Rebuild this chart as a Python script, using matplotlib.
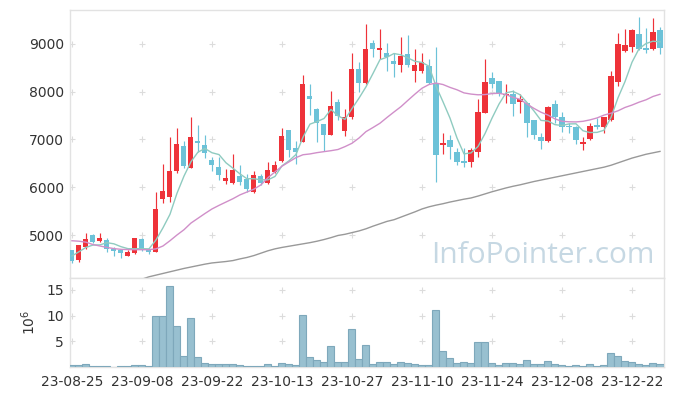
import matplotlib
matplotlib.use("Agg")
import matplotlib.pyplot as plt
import numpy as np

# ---------------- data ----------------
tick_labels = ['23-08-25', '23-09-08', '23-09-22', '23-10-13', '23-10-27',
               '23-11-10', '23-11-24', '23-12-08', '23-12-22']
tick_pos = [0, 10, 20, 30, 40, 50, 60, 70, 80]

opens = [4686, 4477, 4756, 5000, 4870, 4895, 4707, 4680, 4567, 4630,
         4910, 4714, 4645, 5748, 5803, 6347, 6864, 6410, 6975, 6885,
         6577, 6424, 6138, 6083, 6236, 6173, 5895, 6243, 6083, 6327,
         6557, 7199, 6829, 6954, 7911, 7632, 7325, 7102, 7779, 7185,
         7478, 8470, 8177, 9028, 8874, 8805, 8644, 8560, 8791, 8435,
         8435, 8539, 8177, 6885, 6983, 6738, 6550, 6536, 6745, 7562,
         8295, 8226, 7925, 7953, 7786, 7758, 7408, 7046, 6976, 7744,
         7478, 7276, 7270, 6900, 7004, 7290, 7270, 7408, 8211, 8853,
         8930, 9210, 8895, 8889, 9293]
highs = [4690, 4791, 5036, 5020, 5036, 4930, 4755, 4690, 4693, 4935,
         4937, 4720, 5907, 6481, 7046, 7235, 6969, 7465, 7298, 7089,
         6640, 6633, 6376, 6690, 6460, 6278, 6347, 6285, 6536, 6550,
         7235, 7199, 6969, 8351, 8162, 7667, 7330, 8016, 7842, 7632,
         8818, 8630, 9419, 9084, 9308, 9014, 8805, 9140, 9188, 8889,
         8805, 8680, 8931, 7130, 7094, 6822, 6815, 6815, 7842, 8680,
         8407, 8226, 8162, 8037, 7953, 7760, 7408, 7143, 7702, 7827,
         7582, 7340, 7280, 7046, 7340, 7444, 7480, 8442, 9224, 9308,
         9308, 9572, 9329, 9538, 9350]
lows = [4414, 4440, 4707, 4840, 4860, 4650, 4560, 4520, 4560, 4600,
        4670, 4600, 4640, 5664, 5700, 6305, 6397, 6397, 6745, 6607,
        6347, 6152, 6062, 6070, 6048, 5895, 5886, 6048, 6075, 6300,
        6536, 6640, 6487, 6954, 7513, 6954, 6766, 7095, 7408, 7080,
        7423, 8002, 8170, 8734, 8680, 8435, 8316, 8420, 8525, 8211,
        8386, 8170, 6104, 6690, 6592, 6460, 6418, 6418, 6640, 7549,
        8085, 7911, 7771, 7492, 7562, 7059, 7004, 6795, 6955, 7339,
        7164, 7130, 6906, 6780, 6990, 7214, 7130, 7394, 8121, 8840,
        8840, 8874, 8805, 8880, 8790]
closes = [4462, 4791, 4910, 4860, 4940, 4700, 4665, 4617, 4650, 4930,
          4707, 4645, 5545, 5922, 6340, 6906, 6445, 7053, 6933, 6711,
          6466, 6257, 6194, 6362, 6117, 5958, 6257, 6083, 6362, 6466,
          7074, 6780, 6745, 8162, 7842, 7339, 7102, 7702, 7492, 7465,
          8470, 8190, 8889, 8889, 8910, 8734, 8575, 8749, 8560, 8560,
          8617, 8177, 6676, 6920, 6850, 6536, 6508, 6780, 7583, 8198,
          8156, 7981, 7960, 7737, 7849, 7339, 7094, 6976, 7674, 7465,
          7256, 7255, 6990, 6942, 7283, 7270, 7478, 8330, 9000, 8979,
          9293, 8889, 8880, 9245, 8910]
volumes_m = [0.31, 0.3, 0.5, 0.15, 0.15, 0.15, 0.03, 0.15, 0.15, 0.3,
             0.3, 0.15, 9.88, 9.88, 15.68, 8.06, 2.07, 9.62, 1.87, 0.83,
             0.5, 0.5, 0.5, 0.64, 0.3, 0.15, 0.15, 0.15, 0.5, 0.15,
             0.83, 0.5, 0.3, 10.2, 1.87, 1.29, 0.9, 4.02, 0.9, 0.9,
             7.34, 1.48, 4.22, 0.64, 0.9, 0.9, 0.64, 0.9, 0.7, 0.5,
             0.3, 0.3, 11.05, 3.04, 1.68, 0.7, 0.9, 0.7, 4.8, 4.8,
             0.7, 0.3, 0.7, 0.7, 0.5, 1.29, 0.5, 0.5, 1.1, 0.5,
             0.3, 0.15, 0.3, 0.15, 0.5, 0.15, 0.3, 2.65, 2.07, 1.1,
             0.9, 0.5, 0.3, 0.7, 0.5]
ma_short = [4560, 4650, 4740, 4790, 4793, 4840, 4815, 4756, 4714, 4712,
            4714, 4710, 4895, 5150, 5432, 5872, 6232, 6533, 6735, 6810,
            6722, 6684, 6512, 6398, 6279, 6178, 6178, 6155, 6155, 6225,
            6448, 6553, 6685, 7045, 7321, 7374, 7438, 7629, 7495, 7420,
            7646, 7864, 8101, 8381, 8670, 8722, 8799, 8771, 8706, 8636,
            8612, 8533, 8118, 7790, 7448, 7032, 6698, 6719, 6851, 7121,
            7445, 7740, 7976, 8006, 7937, 7773, 7596, 7399, 7386, 7310,
            7293, 7325, 7328, 7182, 7145, 7148, 7193, 7461, 7872, 8211,
            8616, 8898, 9008, 9057, 9043]
ma_mid = [4880, 4870, 4850, 4800, 4770, 4740, 4715, 4700, 4695, 4693,
          4693, 4693, 4710, 4770, 4880, 5000, 5110, 5250, 5350, 5450,
          5545, 5620, 5690, 5760, 5840, 5900, 5960, 6050, 6200, 6320,
          6440, 6530, 6620, 6680, 6697, 6724, 6745, 6765, 6790, 6850,
          6920, 7030, 7164, 7250, 7340, 7460, 7575, 7687, 7820, 7950,
          8072, 8150, 8180, 8150, 8090, 8040, 7975, 7950, 7935, 7940,
          7960, 7967, 7940, 7880, 7842, 7740, 7650, 7570, 7510, 7430,
          7380, 7370, 7367, 7380, 7410, 7450, 7510, 7550, 7600, 7670,
          7720, 7780, 7830, 7900, 7946]
ma_long = [np.nan] * 9 + [
    4040, 4075, 4125, 4160, 4195, 4230, 4265, 4300, 4330, 4360, 4390,
    4415, 4430, 4445, 4465, 4500, 4530, 4570, 4620, 4670, 4710,
    4740, 4765, 4790, 4815, 4840, 4870, 4905, 4945, 4990, 5015,
    5050, 5085, 5130, 5185, 5235, 5285, 5320, 5375, 5430, 5485,
    5545, 5590, 5625, 5655, 5690, 5720, 5750, 5775, 5815, 5860,
    5905, 5945, 5985, 6020, 6050, 6085, 6120, 6150, 6180, 6210,
    6240, 6270, 6300, 6330, 6360, 6390, 6420, 6460, 6510, 6560,
    6610, 6650, 6690, 6720, 6750]
price_ticks = [5000, 6000, 7000, 8000, 9000]
vol_ticks = [5, 10, 15]

# ---------------- figure ----------------
W, H = 673, 396
fig = plt.figure(figsize=(W / 100, H / 100), dpi=100)
fig.patch.set_facecolor('white')

L, R = 69.5 / W, 663.5 / W
ax = fig.add_axes([L, 1 - 278 / H, R - L, (278 - 10) / H])
axv = fig.add_axes([L, 1 - 367 / H, R - L, (367 - 278) / H], sharex=ax)

UP = '#ee3239'
DOWN = '#6cc2d8'
n = len(closes)
x = np.arange(n)

o = np.array(opens, float)
c = np.array(closes, float)
hi = np.array(highs, float)
lo = np.array(lows, float)
up = c >= o
colors = np.where(up, UP, DOWN)

ax.vlines(x, lo, hi, colors=colors, linewidth=0.85, zorder=3)
bottoms = np.minimum(o, c)
heights = np.maximum(np.abs(c - o), 25)
ax.bar(x, heights, bottom=bottoms, width=0.72, color=colors, linewidth=0, zorder=4)

ax.plot(x, ma_short, color='#8fcbc0', lw=1.0, zorder=5)
ax.plot(x, ma_mid, color='#d08fc9', lw=1.0, zorder=5)
ax.plot(x, ma_long, color='#999999', lw=1.0, zorder=5)

xlim = (-0.35, 84.5)
ax.set_xlim(*xlim)
ax.set_ylim(4100, 9710)
axv.set_ylim(0, 17.3)

axv.bar(x, volumes_m, width=1.0, color='#98c0d0', edgecolor='#7ea8bb',
        linewidth=0.8, zorder=3)

grid_c = '#dcdcdc'
for a, yt in ((ax, price_ticks), (axv, vol_ticks)):
    xx, yy = np.meshgrid(tick_pos, yt)
    a.scatter(xx.ravel(), yy.ravel(), marker='+', s=16, color=grid_c,
              linewidths=0.8, zorder=1)
    for s in a.spines.values():
        s.set_color('#e2e2e2')
        s.set_linewidth(1.0)
    a.tick_params(length=0, labelsize=10, colors='#333333', pad=4)
    a.set_yticks(yt)

ax.set_yticklabels([str(v) for v in price_ticks])
ax.tick_params(axis='x', labelbottom=False)
axv.set_xticks(tick_pos)
axv.set_xticklabels(tick_labels)
axv.set_yticklabels([str(v) for v in vol_ticks])
axv.tick_params(axis='x', pad=6)
axv.set_ylabel(r'$10^6$', fontsize=10, color='#333333', labelpad=6)

ax.text(0.985, 0.085, 'InfoPointer.com', transform=ax.transAxes,
        ha='right', va='center', fontsize=21.5, color='#c6d8e3',
        family='Open Sans', zorder=2)

fig.savefig('out.png', dpi=100)
